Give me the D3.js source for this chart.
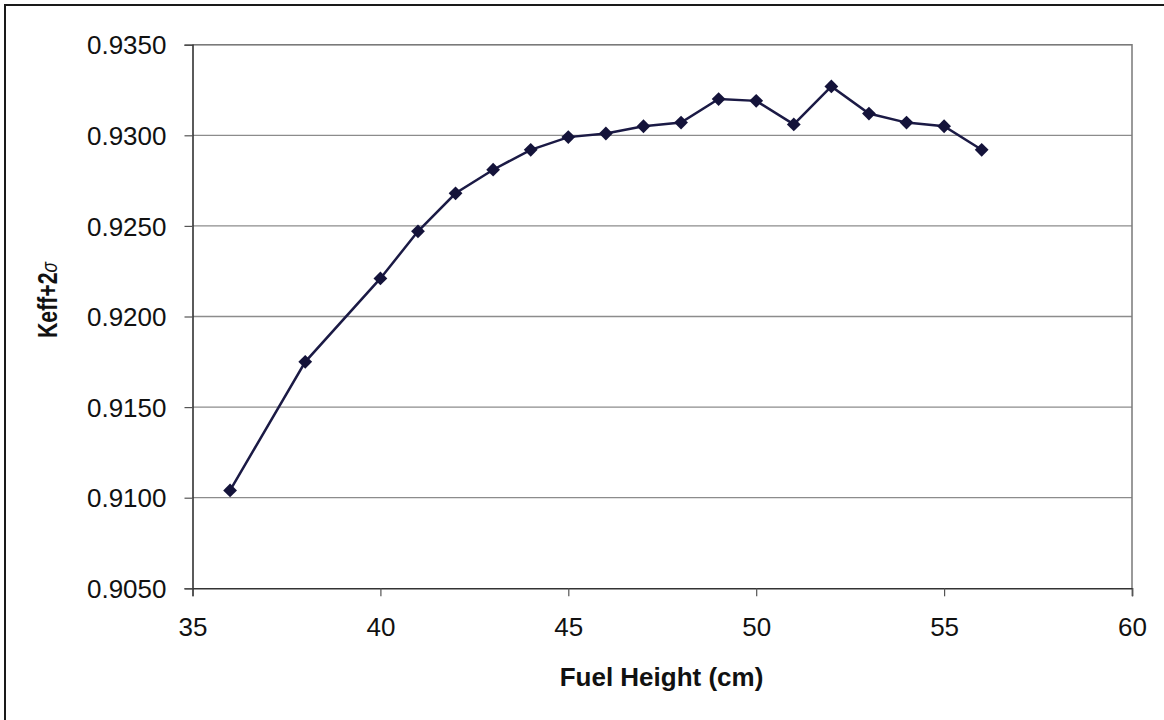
<!DOCTYPE html>
<html>
<head>
<meta charset="utf-8">
<script src="https://cdn.jsdelivr.net/npm/d3@7/dist/d3.min.js"></script>
<style>
html,body{margin:0;padding:0;background:#fff;}
svg{display:block;}
</style>
</head>
<body>
<svg id="chart" width="1164" height="720"></svg>
<script>
const fuelHeight = [36, 38, 40, 41, 42, 43, 44, 45, 46, 47, 48, 49, 50, 51, 52, 53, 54, 55, 56];
const keffValues = [0.9104, 0.9175, 0.9221, 0.9247, 0.9268, 0.9281, 0.9292, 0.9299, 0.9301, 0.9305, 0.9307, 0.9320, 0.9319, 0.9306, 0.9327, 0.9312, 0.9307, 0.9305, 0.9292];
const xTicks = [35, 40, 45, 50, 55, 60];
const yTicks = [0.9050, 0.9100, 0.9150, 0.9200, 0.9250, 0.9300, 0.9350];
const xTitle = "Fuel Height (cm)";
const yTitle = "Keff+2";
const yTitleSymbol = "σ";

const svg = d3.select("#chart");
const W = 1164, H = 720;
const plot = {left: 192.5, right: 1132, top: 44.7, bottom: 588.3};

svg.append("rect").attr("x",0).attr("y",0).attr("width",W).attr("height",H).attr("fill","#fff");
// outer chart border (cropped at right & bottom)
svg.append("rect").attr("x",5).attr("y",5).attr("width",1170).attr("height",730)
  .attr("fill","none").attr("stroke","#1a1a1a").attr("stroke-width",2);

const x = d3.scaleLinear().domain([35,60]).range([plot.left, plot.right]);
const y = d3.scaleLinear().domain([0.9050,0.9350]).range([plot.bottom, plot.top]);

// gridlines
svg.append("g").selectAll("line").data(yTicks.slice(1)).join("line")
  .attr("x1",plot.left).attr("x2",plot.right)
  .attr("y1",d=>y(d)).attr("y2",d=>y(d))
  .attr("stroke","#8c8c8c").attr("stroke-width",1.3);

// plot area frame (top/right gray)
svg.append("path")
  .attr("d",`M${plot.left},${plot.top}H${plot.right}V${plot.bottom}`)
  .attr("fill","none").attr("stroke","#7a7a7a").attr("stroke-width",1.5);

// axes
const xAxis = d3.axisBottom(x).tickValues(xTicks).tickSize(8).tickPadding(21).tickFormat(d3.format("d"));
const gx = svg.append("g").attr("transform",`translate(0,${plot.bottom})`).call(xAxis);
const yAxis = d3.axisLeft(y).tickValues(yTicks).tickSize(8).tickPadding(18).tickFormat(d3.format(".4f"));
const gy = svg.append("g").attr("transform",`translate(${plot.left},0)`).call(yAxis);
[gx,gy].forEach(g=>{
  g.select(".domain").attr("stroke","#333").attr("stroke-width",1.6);
  g.selectAll(".tick line").attr("stroke","#555").attr("stroke-width",1.2);
  g.selectAll(".tick text").attr("fill","#111")
    .style("font-family","Arial, 'Liberation Sans', sans-serif").style("font-size","26px");
});
gy.selectAll(".tick text").attr("dy","0.35em");
gx.selectAll(".tick text").attr("dy","0.71em");

// line
const line = d3.line().x((d,i)=>x(fuelHeight[i])).y(d=>y(d));
svg.append("path").datum(keffValues).attr("d",line)
  .attr("fill","none").attr("stroke","#1b1a45").attr("stroke-width",2.5);

// markers
const sym = d3.symbol().type(d3.symbolSquare).size(95);
svg.append("g").selectAll("path").data(keffValues).join("path")
  .attr("d",sym)
  .attr("transform",(d,i)=>`translate(${x(fuelHeight[i])},${y(d)}) rotate(45)`)
  .attr("fill","#14133a");

// axis titles
svg.append("text").attr("x",661.5).attr("y",686)
  .attr("text-anchor","middle")
  .style("font-family","Arial, 'Liberation Sans', sans-serif")
  .style("font-size","26px").style("font-weight","bold").attr("fill","#111")
  .text(xTitle);

const yt = svg.append("text")
  .attr("transform","translate(57,300) rotate(-90)")
  .attr("text-anchor","middle")
  .attr("textLength",76).attr("lengthAdjust","spacingAndGlyphs")
  .style("font-family","Arial, 'Liberation Sans', sans-serif")
  .style("font-size","27px").style("font-weight","bold").attr("fill","#111");
yt.append("tspan").text(yTitle);
yt.append("tspan").style("font-style","italic").style("font-weight","normal").style("font-size","22px").text(yTitleSymbol);
</script>
</body>
</html>
